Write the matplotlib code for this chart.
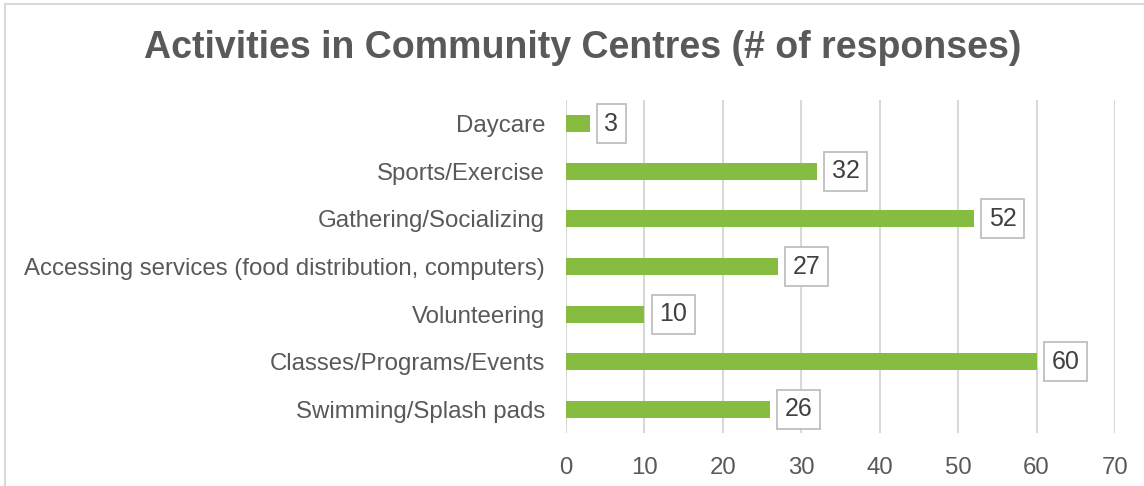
import matplotlib
matplotlib.use("Agg")
import matplotlib.pyplot as plt
from matplotlib.patches import Rectangle

categories = ["Daycare", "Sports/Exercise", "Gathering/Socializing",
              "Accessing services (food distribution, computers)",
              "Volunteering", "Classes/Programs/Events", "Swimming/Splash pads"]
values = [3, 32, 52, 27, 10, 60, 26]
xticks = [0, 10, 20, 30, 40, 50, 60, 70]

plt.rcParams['font.family'] = ['Liberation Sans', 'DejaVu Sans']

W, H = 1144, 486
fig = plt.figure(figsize=(W/100, H/100), dpi=100)
fig.patches.append(Rectangle((5/W, -0.1), 1.2, 1 - 4/H + 0.1, transform=fig.transFigure,
                             fill=False, edgecolor='#D9D9D9', linewidth=1.5))
ax = fig.add_axes([566/W, 1 - 433/H, (1115-566)/W, (433-100)/H])

n = len(categories)
ypos = list(range(n))[::-1]
ax.barh(ypos, values, height=0.36, color='#86BC40', zorder=3)
for y, v in zip(ypos, values):
    ax.text(v + 1.9, y, str(v), va='center', ha='left', fontsize=18, color='#404040',
            zorder=4,
            bbox=dict(boxstyle='square,pad=0.3', facecolor='white', edgecolor='#BFBFBF', linewidth=1.3))

ax.set_xlim(0, 70)
ax.set_ylim(-0.5, n - 0.5)
ax.set_xticks(xticks)
ax.set_xticklabels([str(t) for t in xticks])
ax.set_yticks(ypos)
ax.set_yticklabels(categories)
ax.tick_params(axis='both', length=0, labelsize=17.3, labelcolor='#595959')
ax.tick_params(axis='y', pad=15)
ax.tick_params(axis='x', pad=17)
ax.grid(axis='x', color='#D9D9D9', linewidth=1.5, zorder=0)
for s in ax.spines.values():
    s.set_visible(False)

fig.text(583/W, 1 - 48/H, "Activities in Community Centres (# of responses)", ha='center', va='center',
         fontsize=27, fontweight='bold', color='#595959')

fig.savefig("out.png", dpi=100)
